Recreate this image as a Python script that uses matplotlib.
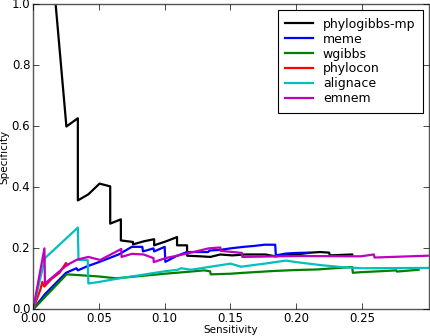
import numpy as np
import matplotlib
matplotlib.use("Agg")
import matplotlib.pyplot as plt

plt.style.use('classic')

# datos (sensibilidad, especificidad)
phylogibbs_x = [0.0167, 0.0253, 0.034, 0.034, 0.042, 0.0505, 0.0586, 0.0586, 0.0667, 0.0667,
                0.0759, 0.0759, 0.084, 0.092, 0.092, 0.101, 0.1094, 0.1094, 0.117, 0.117,
                0.127, 0.1347, 0.1423, 0.1512, 0.1613, 0.1766, 0.184, 0.2, 0.211, 0.218,
                0.225, 0.2255, 0.2425]
phylogibbs_y = [1.02, 0.599, 0.626, 0.357, 0.377, 0.412, 0.403, 0.281, 0.295, 0.226,
                0.221, 0.213, 0.223, 0.23, 0.21, 0.223, 0.237, 0.21, 0.21, 0.176,
                0.174, 0.172, 0.18, 0.177, 0.18, 0.18, 0.174, 0.18, 0.186, 0.188,
                0.186, 0.177, 0.18]

meme_x = [0, 0.009, 0.025, 0.033, 0.034, 0.0415, 0.05, 0.065, 0.075, 0.083, 0.0835, 0.0915,
          0.092, 0.1, 0.1005, 0.109, 0.117, 0.133, 0.134, 0.142, 0.15, 0.16, 0.168, 0.176,
          0.184, 0.1845, 0.192, 0.2, 0.2095]
meme_y = [0, 0.05, 0.12, 0.135, 0.128, 0.142, 0.155, 0.18, 0.205, 0.205, 0.19, 0.2,
          0.19, 0.205, 0.156, 0.175, 0.188, 0.188, 0.193, 0.195, 0.2, 0.205, 0.208, 0.212,
          0.212, 0.177, 0.183, 0.185, 0.186]

wgibbs_x = [0, 0.0255, 0.05, 0.063, 0.1, 0.117, 0.13, 0.1345, 0.135, 0.15, 0.16, 0.183,
            0.199, 0.216, 0.229, 0.2425, 0.243, 0.249, 0.263, 0.276, 0.2765, 0.293]
wgibbs_y = [0, 0.115, 0.108, 0.102, 0.117, 0.123, 0.128, 0.125, 0.115, 0.117, 0.12, 0.126,
            0.129, 0.131, 0.135, 0.139, 0.12, 0.122, 0.125, 0.128, 0.124, 0.13]

phylocon_x = [0, 0.0055, 0.007, 0.0085, 0.014, 0.02, 0.025, 0.026]
phylocon_y = [0, 0.065, 0.09, 0.075, 0.1, 0.12, 0.152, 0.145]

alignace_x = [0, 0.009, 0.034, 0.0345, 0.0415, 0.042, 0.05, 0.063, 0.078, 0.1, 0.11, 0.1125,
              0.12, 0.135, 0.15, 0.158, 0.176, 0.192, 0.2, 0.219, 0.234, 0.249, 0.3]
alignace_y = [0, 0.168, 0.268, 0.162, 0.162, 0.085, 0.09, 0.1, 0.11, 0.125, 0.13, 0.135,
              0.13, 0.14, 0.15, 0.14, 0.15, 0.16, 0.155, 0.145, 0.139, 0.135, 0.136]

emnem_x = [0, 0.0086, 0.009, 0.0256, 0.0333, 0.042, 0.051, 0.067, 0.0672, 0.075, 0.084,
           0.0915, 0.0917, 0.1005, 0.117, 0.1334, 0.1423, 0.1425, 0.1588, 0.159, 0.2,
           0.249, 0.259, 0.2595, 0.3]
emnem_y = [0, 0.2, 0.085, 0.145, 0.163, 0.172, 0.162, 0.198, 0.172, 0.182, 0.18,
           0.168, 0.155, 0.168, 0.183, 0.2, 0.203, 0.192, 0.185, 0.172, 0.175,
           0.174, 0.18, 0.17, 0.176]

fig = plt.figure(figsize=(4.3, 3.36), dpi=100, facecolor='white')
ax = fig.add_axes([0.077, 0.079, 0.921, 0.909])

lw = 1.6
ax.plot(phylogibbs_x, phylogibbs_y, color='k', lw=lw, label='phylogibbs-mp')
ax.plot(meme_x, meme_y, color='b', lw=lw, label='meme')
ax.plot(wgibbs_x, wgibbs_y, color='g', lw=lw, label='wgibbs')
ax.plot(phylocon_x, phylocon_y, color='r', lw=lw, label='phylocon')
ax.plot(alignace_x, alignace_y, color='c', lw=lw, label='alignace')
ax.plot(emnem_x, emnem_y, color='m', lw=lw, label='emnem')

ax.set_xlim(0, 0.301)
ax.set_ylim(0, 1.0)
ax.set_xticks([0.0, 0.05, 0.10, 0.15, 0.20, 0.25])
ax.set_xticklabels(['0.00', '0.05', '0.10', '0.15', '0.20', '0.25'])
ax.set_yticks([0.0, 0.2, 0.4, 0.6, 0.8, 1.0])
ax.set_yticklabels(['0.0', '0.2', '0.4', '0.6', '0.8', '1.0'])
ax.tick_params(labelsize=8.5, length=4, pad=2)

for s in ax.spines.values():
    s.set_color('#555555')

ax.set_xlabel('Sensitivity', fontsize=7.5, labelpad=0)
ax.set_ylabel('Specificity', fontsize=7.5, labelpad=2)

leg = ax.legend(loc='upper right', fontsize=9, handlelength=2.2, labelspacing=0.15,
                borderpad=0.6, fancybox=False, numpoints=1)
leg.get_frame().set_linewidth(0.8)

fig.savefig('out.png', dpi=100)
